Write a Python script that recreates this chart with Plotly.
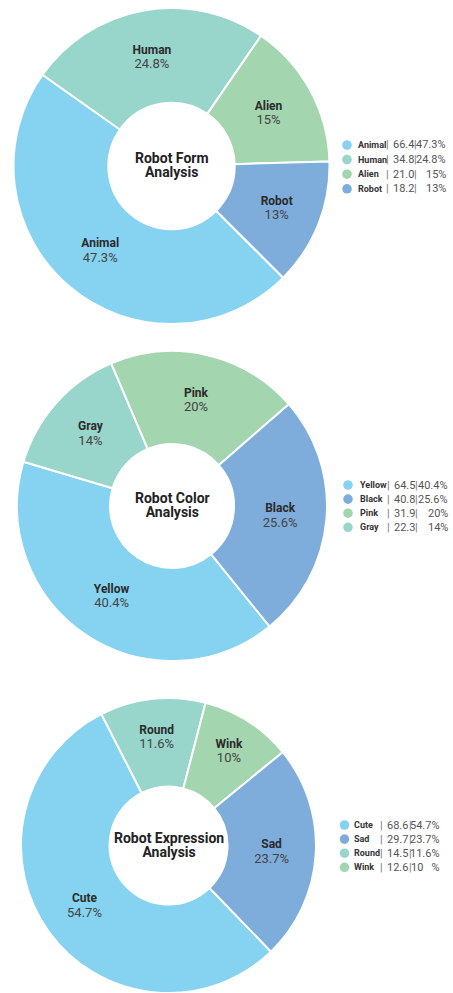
import plotly.graph_objects as go

# ---------------- data ----------------
form_labels = ["Animal", "Human", "Alien", "Robot"]
form_values = [66.4, 34.8, 21.0, 18.2]
form_pct_text = ["47.3%", "24.8%", "15%", "13%"]

color_labels = ["Yellow", "Gray", "Pink", "Black"]
color_values = [64.5, 22.3, 31.9, 40.8]
color_pct_text = ["40.4%", "25.6%", "20%", "14%"]

expr_labels = ["Cute", "Round", "Wink", "Sad"]
expr_values = [68.6, 14.5, 12.6, 29.7]
expr_pct_text = ["54.7%", "23.7%", "11.6%", "10&nbsp;&nbsp;&nbsp;%"]

titles = ["Robot Form", "Robot Color", "Robot Expression"]

# ---------------- style ----------------
W, H = 453, 993
C_LBLUE = "#85D3F1"
C_TEAL = "#98D5CB"
C_GREEN = "#A3D5AF"
C_BLUE = "#7EADDC"
palette = {
    "Animal": C_LBLUE, "Human": C_TEAL, "Alien": C_GREEN, "Robot": C_BLUE,
    "Yellow": C_LBLUE, "Gray": C_TEAL, "Pink": C_GREEN, "Black": C_BLUE,
    "Cute": C_LBLUE, "Round": C_TEAL, "Wink": C_GREEN, "Sad": C_BLUE,
}
FONT = "Roboto, Arial, sans-serif"

charts = [
    dict(labels=form_labels, values=form_values, pct=form_pct_text, title=titles[0],
         cx=171.5, cy=166, r=158, rot=135,
         leg=dict(circ=347, name=356, p1=387.5, val=390.5, p2=415.5, pct=448, top=145, dy=14.6)),
    dict(labels=color_labels, values=color_values, pct=color_pct_text, title=titles[1],
         cx=172, cy=506, r=155, rot=141,
         leg=dict(circ=348, name=358, p1=388.5, val=392, p2=416, pct=450, top=485, dy=14.1)),
    dict(labels=expr_labels, values=expr_values, pct=expr_pct_text, title=titles[2],
         cx=168.5, cy=845.5, r=147.5, rot=136,
         leg=dict(circ=344.5, name=352, p1=381.5, val=385, p2=410.5, pct=442, top=825, dy=14.1)),
]


def px(x):
    return x / W


def py(y):
    return min(1.0, max(0.0, 1 - y / H))


fig = go.Figure()
annotations = []
shapes = []

for ch in charts:
    cx, cy, r = ch["cx"], ch["cy"], ch["r"]
    fig.add_trace(go.Pie(
        labels=ch["labels"],
        values=ch["values"],
        sort=False,
        direction="clockwise",
        rotation=ch["rot"],
        hole=0.4,
        domain=dict(x=[px(cx - r), px(cx + r)], y=[py(cy + r), py(cy - r)]),
        marker=dict(colors=[palette[l] for l in ch["labels"]],
                    line=dict(color="white", width=2)),
        textposition="inside",
        insidetextorientation="horizontal",
        texttemplate=("<span style='font-size:12px;color:#2b2b2b'><b>%{label}</b></span><br>"
                      "<span style='font-size:13px'>%{percent}</span>"),
        textfont=dict(family=FONT, size=11, color="#444444"),
        showlegend=False,
        hoverinfo="label+value+percent",
    ))

    # center title (two lines, tight spacing)
    annotations.append(dict(
        text=("<span style='font-size:14px'><b>%s</b></span><br>"
              "<span style='font-size:14px'><b>Analysis</b></span>") % ch["title"],
        x=px(cx), y=py(cy - 1), xref="paper", yref="paper", showarrow=False,
        xanchor="center", yanchor="middle", align="center",
        font=dict(family=FONT, size=11, color="#222222")))

    # custom legend, sorted by value
    order = sorted(range(len(ch["values"])), key=lambda i: -ch["values"][i])
    L = ch["leg"]
    for k, i in enumerate(order):
        yy = L["top"] + L["dy"] * k
        lab = ch["labels"][i]
        shapes.append(dict(type="circle", xref="paper", yref="paper",
                           xsizemode="pixel", ysizemode="pixel",
                           xanchor=px(L["circ"]), yanchor=py(yy),
                           x0=-4.8, x1=4.8, y0=-4.8, y1=4.8,
                           fillcolor=palette[lab], line=dict(width=0)))
        annotations.append(dict(text="<b>%s</b>" % lab, x=px(L["name"]), y=py(yy),
                                xref="paper", yref="paper", showarrow=False,
                                xanchor="left", yanchor="middle",
                                font=dict(family=FONT, size=9, color="#333333")))
        for xp in (L["p1"], L["p2"]):
            annotations.append(dict(text="|", x=px(xp), y=py(yy),
                                    xref="paper", yref="paper", showarrow=False,
                                    xanchor="center", yanchor="middle",
                                    font=dict(family=FONT, size=11, color="#777777")))
        annotations.append(dict(text="%.1f" % ch["values"][i], x=px(L["val"]), y=py(yy),
                                xref="paper", yref="paper", showarrow=False,
                                xanchor="left", yanchor="middle",
                                font=dict(family=FONT, size=11, color="#555555")))
        annotations.append(dict(text=ch["pct"][k], x=px(L["pct"]), y=py(yy),
                                xref="paper", yref="paper", showarrow=False,
                                xanchor="right", yanchor="middle",
                                font=dict(family=FONT, size=11, color="#555555")))

fig.update_layout(
    width=W, height=H,
    margin=dict(l=0, r=0, t=0, b=0),
    paper_bgcolor="white", plot_bgcolor="white",
    annotations=annotations, shapes=shapes,
    font=dict(family=FONT),
)

fig.write_html("out.html")
